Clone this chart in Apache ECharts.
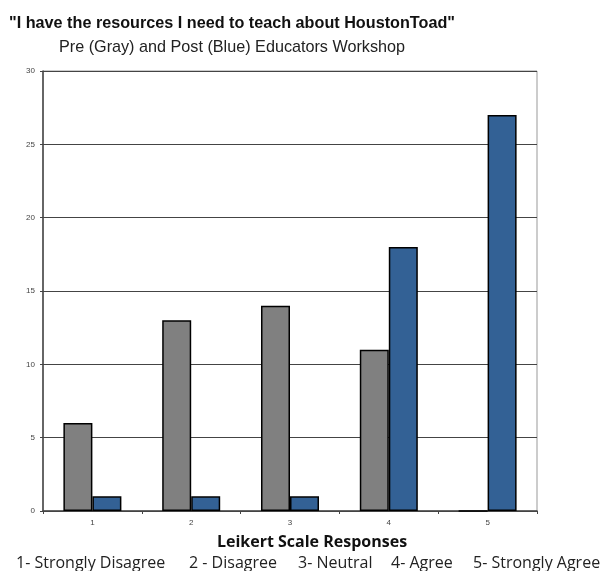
<!DOCTYPE html>
<html><head><meta charset="utf-8">
<script src="https://cdn.jsdelivr.net/npm/echarts@6/dist/echarts.min.js"></script>
<style>html,body{margin:0;padding:0;background:#fff}#c{width:608px;height:571px}</style>
</head><body><div id="c"></div>
<script>
var categories = ['1','2','3','4','5'];
var preValues = [6, 13, 14, 11, 0];
var postValues = [1, 1, 1, 18, 27];
var yTicks = [0, 5, 10, 15, 20, 25, 30];
var titleText = '"I have the resources I need to teach about HoustonToad"';
var subtitleText = 'Pre (Gray) and Post (Blue) Educators Workshop';
var xAxisName = 'Leikert Scale Responses';
var footLabels = ['1- Strongly Disagree', '2 - Disagree', '3- Neutral', '4- Agree', '5- Strongly Agree'];
var footLeft = [16, 189, 298, 391, 473];

var footTitles = footLabels.map(function(t, i){
  return {text: t, left: footLeft[i], top: 555, padding: 0,
    textStyle: {fontFamily: 'Open Sans', fontWeight: 'normal', fontSize: 16, color: '#222'}};
});

var chart = echarts.init(document.getElementById('c'));
chart.setOption({
  animation: false,
  title: [
    {text: titleText, left: 227, textAlign: 'center', top: 11,
     textStyle: {fontFamily: 'Liberation Sans', fontWeight: 'bold', fontSize: 16.2, color: '#111'}},
    {text: subtitleText, left: 227, textAlign: 'center', top: 35,
     textStyle: {fontFamily: 'Liberation Sans', fontWeight: 'normal', fontSize: 16.2, color: '#222'}}
  ].concat(footTitles),
  grid: {left: 43, right: 71, top: 71, bottom: 60, show: true, borderColor: '#999', borderWidth: 1},
  xAxis: {
    type: 'category', data: categories,
    name: xAxisName, nameLocation: 'middle', nameGap: 23,
    nameTextStyle: {fontFamily: 'Open Sans', fontWeight: 'bold', fontSize: 16, color: '#111', padding: [0, 0, 0, 44]},
    axisLine: {lineStyle: {color: '#444', width: 1.5}},
    axisTick: {show: true, alignWithLabel: false, length: 3, lineStyle: {color: '#444'}},
    axisLabel: {fontSize: 8, color: '#444', margin: 8, fontFamily: 'Liberation Sans'}
  },
  yAxis: {
    type: 'value', min: 0, max: 30, interval: 5,
    axisLine: {show: true, lineStyle: {color: '#444', width: 1.5}},
    axisTick: {show: true, length: 3, lineStyle: {color: '#444'}},
    axisLabel: {fontSize: 8, color: '#444', margin: 8, fontFamily: 'Liberation Sans',
      formatter: function(v){ return yTicks.indexOf(v) >= 0 ? String(v) : ''; }},
    splitLine: {lineStyle: {color: '#444', width: 1}}
  },
  series: [
    {type: 'bar', data: preValues, barWidth: 29, barGap: '0%',
     itemStyle: {color: '#808080', borderColor: '#000', borderWidth: 1.5}},
    {type: 'bar', data: postValues, barWidth: 29, barGap: '0%',
     itemStyle: {color: '#336195', borderColor: '#000', borderWidth: 1.5}}
  ]
});
</script></body></html>
